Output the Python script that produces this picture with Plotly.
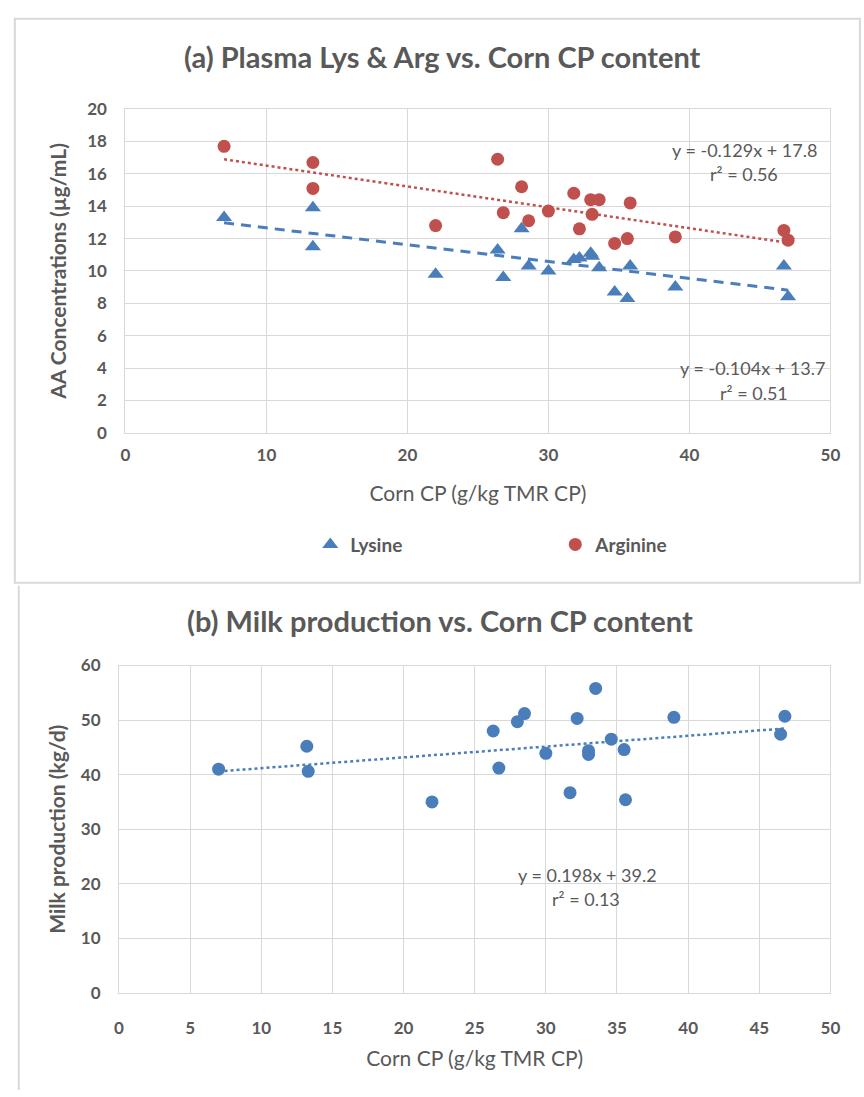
import plotly.graph_objects as go

# ---------------- data ----------------
corn_cp_a = [7.0, 13.3, 13.3, 22.0, 26.4, 26.8, 28.1, 28.6, 30.0, 31.8,
             32.2, 33.0, 33.1, 33.6, 34.7, 35.6, 35.8, 39.0, 46.7, 47.0]
lysine = [13.3, 13.9, 11.5, 9.8, 11.3, 9.6, 12.6, 10.3, 10.0, 10.7,
          10.8, 11.1, 10.9, 10.2, 8.7, 8.3, 10.3, 9.0, 10.3, 8.4]
arginine = [17.7, 16.7, 15.1, 12.8, 16.9, 13.6, 15.2, 13.1, 13.7, 14.8,
            12.6, 14.4, 13.5, 14.4, 11.7, 12.0, 14.2, 12.1, 12.5, 11.9]

corn_cp_b = [7.0, 13.2, 13.3, 22.0, 26.3, 26.7, 28.0, 28.5, 30.0, 31.7,
             32.2, 33.0, 33.0, 33.5, 34.6, 35.5, 35.6, 39.0, 46.5, 46.8]
milk = [41.0, 45.2, 40.6, 35.0, 48.0, 41.2, 49.7, 51.2, 43.9, 36.7,
        50.3, 44.4, 43.7, 55.8, 46.5, 44.6, 35.4, 50.5, 47.4, 50.7]

# trendline coefficients (from the chart's equations)
lys_fit = (-0.104, 13.7, 0.51)
arg_fit = (-0.129, 17.8, 0.56)
milk_fit = (0.198, 39.2, 0.13)

x_ticks_a = [0, 10, 20, 30, 40, 50]
y_ticks_a = [0, 2, 4, 6, 8, 10, 12, 14, 16, 18, 20]
x_ticks_b = [0, 5, 10, 15, 20, 25, 30, 35, 40, 45, 50]
y_ticks_b = [0, 10, 20, 30, 40, 50, 60]

# ---------------- style ----------------
BLUE = "#4A7EBB"
RED = "#C0504D"
TXT = "#595959"
GRID = "#D9D9D9"
FONT = "Lato, Open Sans, sans-serif"
W, H = 864, 1097


def px_x(p):
    return p / W


def px_y(p):
    return 1 - p / H


fig = go.Figure()

fig.add_trace(go.Scatter(x=corn_cp_a, y=lysine, mode="markers", name="Lysine",
                         marker=dict(symbol="triangle-up", size=14, color=BLUE),
                         xaxis="x", yaxis="y"))
fig.add_trace(go.Scatter(x=corn_cp_a, y=arginine, mode="markers", name="Arginine",
                         marker=dict(symbol="circle", size=13, color=RED),
                         xaxis="x", yaxis="y"))

xa0, xa1 = min(corn_cp_a), max(corn_cp_a)
fig.add_trace(go.Scatter(x=[xa0, xa1], y=[lys_fit[0] * xa0 + lys_fit[1], lys_fit[0] * xa1 + lys_fit[1]],
                         mode="lines", showlegend=False,
                         line=dict(color=BLUE, width=3, dash="10px,7px"), xaxis="x", yaxis="y"))
fig.add_trace(go.Scatter(x=[xa0, xa1], y=[arg_fit[0] * xa0 + arg_fit[1], arg_fit[0] * xa1 + arg_fit[1]],
                         mode="lines", showlegend=False,
                         line=dict(color=RED, width=2.5, dash="dot"), xaxis="x", yaxis="y"))

fig.add_trace(go.Scatter(x=corn_cp_b, y=milk, mode="markers", name="Milk", showlegend=False,
                         marker=dict(symbol="circle", size=13, color=BLUE),
                         xaxis="x2", yaxis="y2"))
xb0, xb1 = min(corn_cp_b), max(corn_cp_b)
fig.add_trace(go.Scatter(x=[xb0, xb1], y=[milk_fit[0] * xb0 + milk_fit[1], milk_fit[0] * xb1 + milk_fit[1]],
                         mode="lines", showlegend=False,
                         line=dict(color=BLUE, width=2.5, dash="dot"), xaxis="x2", yaxis="y2"))

axis_common = dict(showgrid=True, gridcolor=GRID, gridwidth=1, zeroline=False,
                   showline=True, linecolor=GRID, linewidth=1, mirror=True,
                   ticks="", fixedrange=True,
                   tickfont=dict(family=FONT, size=17, color=TXT, weight="bold"))

fig.update_layout(
    width=W, height=H,
    margin=dict(l=0, r=0, t=0, b=0),
    paper_bgcolor="white", plot_bgcolor="white",
    font=dict(family=FONT, color=TXT),
    xaxis=dict(axis_common, domain=[px_x(122.5), px_x(840)], range=[0, 50],
               tickvals=x_ticks_a, ticklabelstandoff=7, anchor="y",
               title=dict(text="Corn CP (g/kg TMR CP)", standoff=22,
                          font=dict(family=FONT, size=21, color=TXT))),
    yaxis=dict(axis_common, domain=[px_y(430), px_y(100)], range=[0, 20],
               tickvals=y_ticks_a, ticklabelstandoff=14, anchor="x",
               title=dict(text="AA Concentrations (µg/mL)", standoff=14,
                          font=dict(family=FONT, size=21, color=TXT, weight="bold"))),
    xaxis2=dict(axis_common, domain=[px_x(116), px_x(840)], range=[0, 50],
                tickvals=x_ticks_b, ticklabelstandoff=20, anchor="y2",
                title=dict(text="Corn CP (g/kg TMR CP)", standoff=14,
                           font=dict(family=FONT, size=21, color=TXT))),
    yaxis2=dict(axis_common, domain=[px_y(1001), px_y(667.3)], range=[0, 60],
                tickvals=y_ticks_b, ticklabelstandoff=14, anchor="x2",
                title=dict(text="Milk production (kg/d)", standoff=9,
                           font=dict(family=FONT, size=21, color=TXT, weight="bold"))),
    legend=dict(orientation="h", x=px_x(560), xanchor="center", y=px_y(544), yanchor="middle",
                font=dict(family=FONT, size=19, color=TXT, weight="bold"),
                entrywidth=200, bgcolor="rgba(0,0,0,0)"),
    showlegend=True,
)

annotations = [
    dict(text="(a) Plasma Lys & Arg vs. Corn CP content", x=px_x(445), y=px_y(46),
         xref="paper", yref="paper", showarrow=False, xanchor="center", yanchor="middle",
         font=dict(family=FONT, size=29, color=TXT, weight="bold")),
    dict(text="(b) Milk production vs. Corn CP content", x=px_x(443), y=px_y(621),
         xref="paper", yref="paper", showarrow=False, xanchor="center", yanchor="middle",
         font=dict(family=FONT, size=29, color=TXT, weight="bold")),
    dict(text=f"y = {arg_fit[0]}x + {arg_fit[1]}", x=px_x(753), y=px_y(142),
         xref="paper", yref="paper", showarrow=False, xanchor="center", yanchor="middle",
         font=dict(family=FONT, size=18, color=TXT)),
    dict(text=f"r² = {arg_fit[2]}", x=px_x(752), y=px_y(166),
         xref="paper", yref="paper", showarrow=False, xanchor="center", yanchor="middle",
         font=dict(family=FONT, size=18, color=TXT)),
    dict(text=f"y = {lys_fit[0]}x + {lys_fit[1]}", x=px_x(761), y=px_y(364),
         xref="paper", yref="paper", showarrow=False, xanchor="center", yanchor="middle",
         font=dict(family=FONT, size=18, color=TXT)),
    dict(text=f"r² = {lys_fit[2]}", x=px_x(762), y=px_y(389),
         xref="paper", yref="paper", showarrow=False, xanchor="center", yanchor="middle",
         font=dict(family=FONT, size=18, color=TXT)),
    dict(text=f"y = {milk_fit[0]}x + {milk_fit[1]}", x=px_x(593), y=px_y(881),
         xref="paper", yref="paper", showarrow=False, xanchor="center", yanchor="middle",
         font=dict(family=FONT, size=18, color=TXT)),
    dict(text=f"r² = {milk_fit[2]}", x=px_x(591), y=px_y(905),
         xref="paper", yref="paper", showarrow=False, xanchor="center", yanchor="middle",
         font=dict(family=FONT, size=18, color=TXT)),
]
fig.update_layout(annotations=annotations)

# panel borders
fig.add_shape(type="rect", xref="paper", yref="paper",
              x0=px_x(10), x1=px_x(870), y0=px_y(583), y1=px_y(8),
              line=dict(color=GRID, width=2), fillcolor="rgba(0,0,0,0)", layer="below")
fig.add_shape(type="line", xref="paper", yref="paper",
              x0=px_x(14), x1=px_x(14), y0=px_y(1100), y1=px_y(586),
              line=dict(color=GRID, width=2), layer="below")

fig.write_html("out.html")
